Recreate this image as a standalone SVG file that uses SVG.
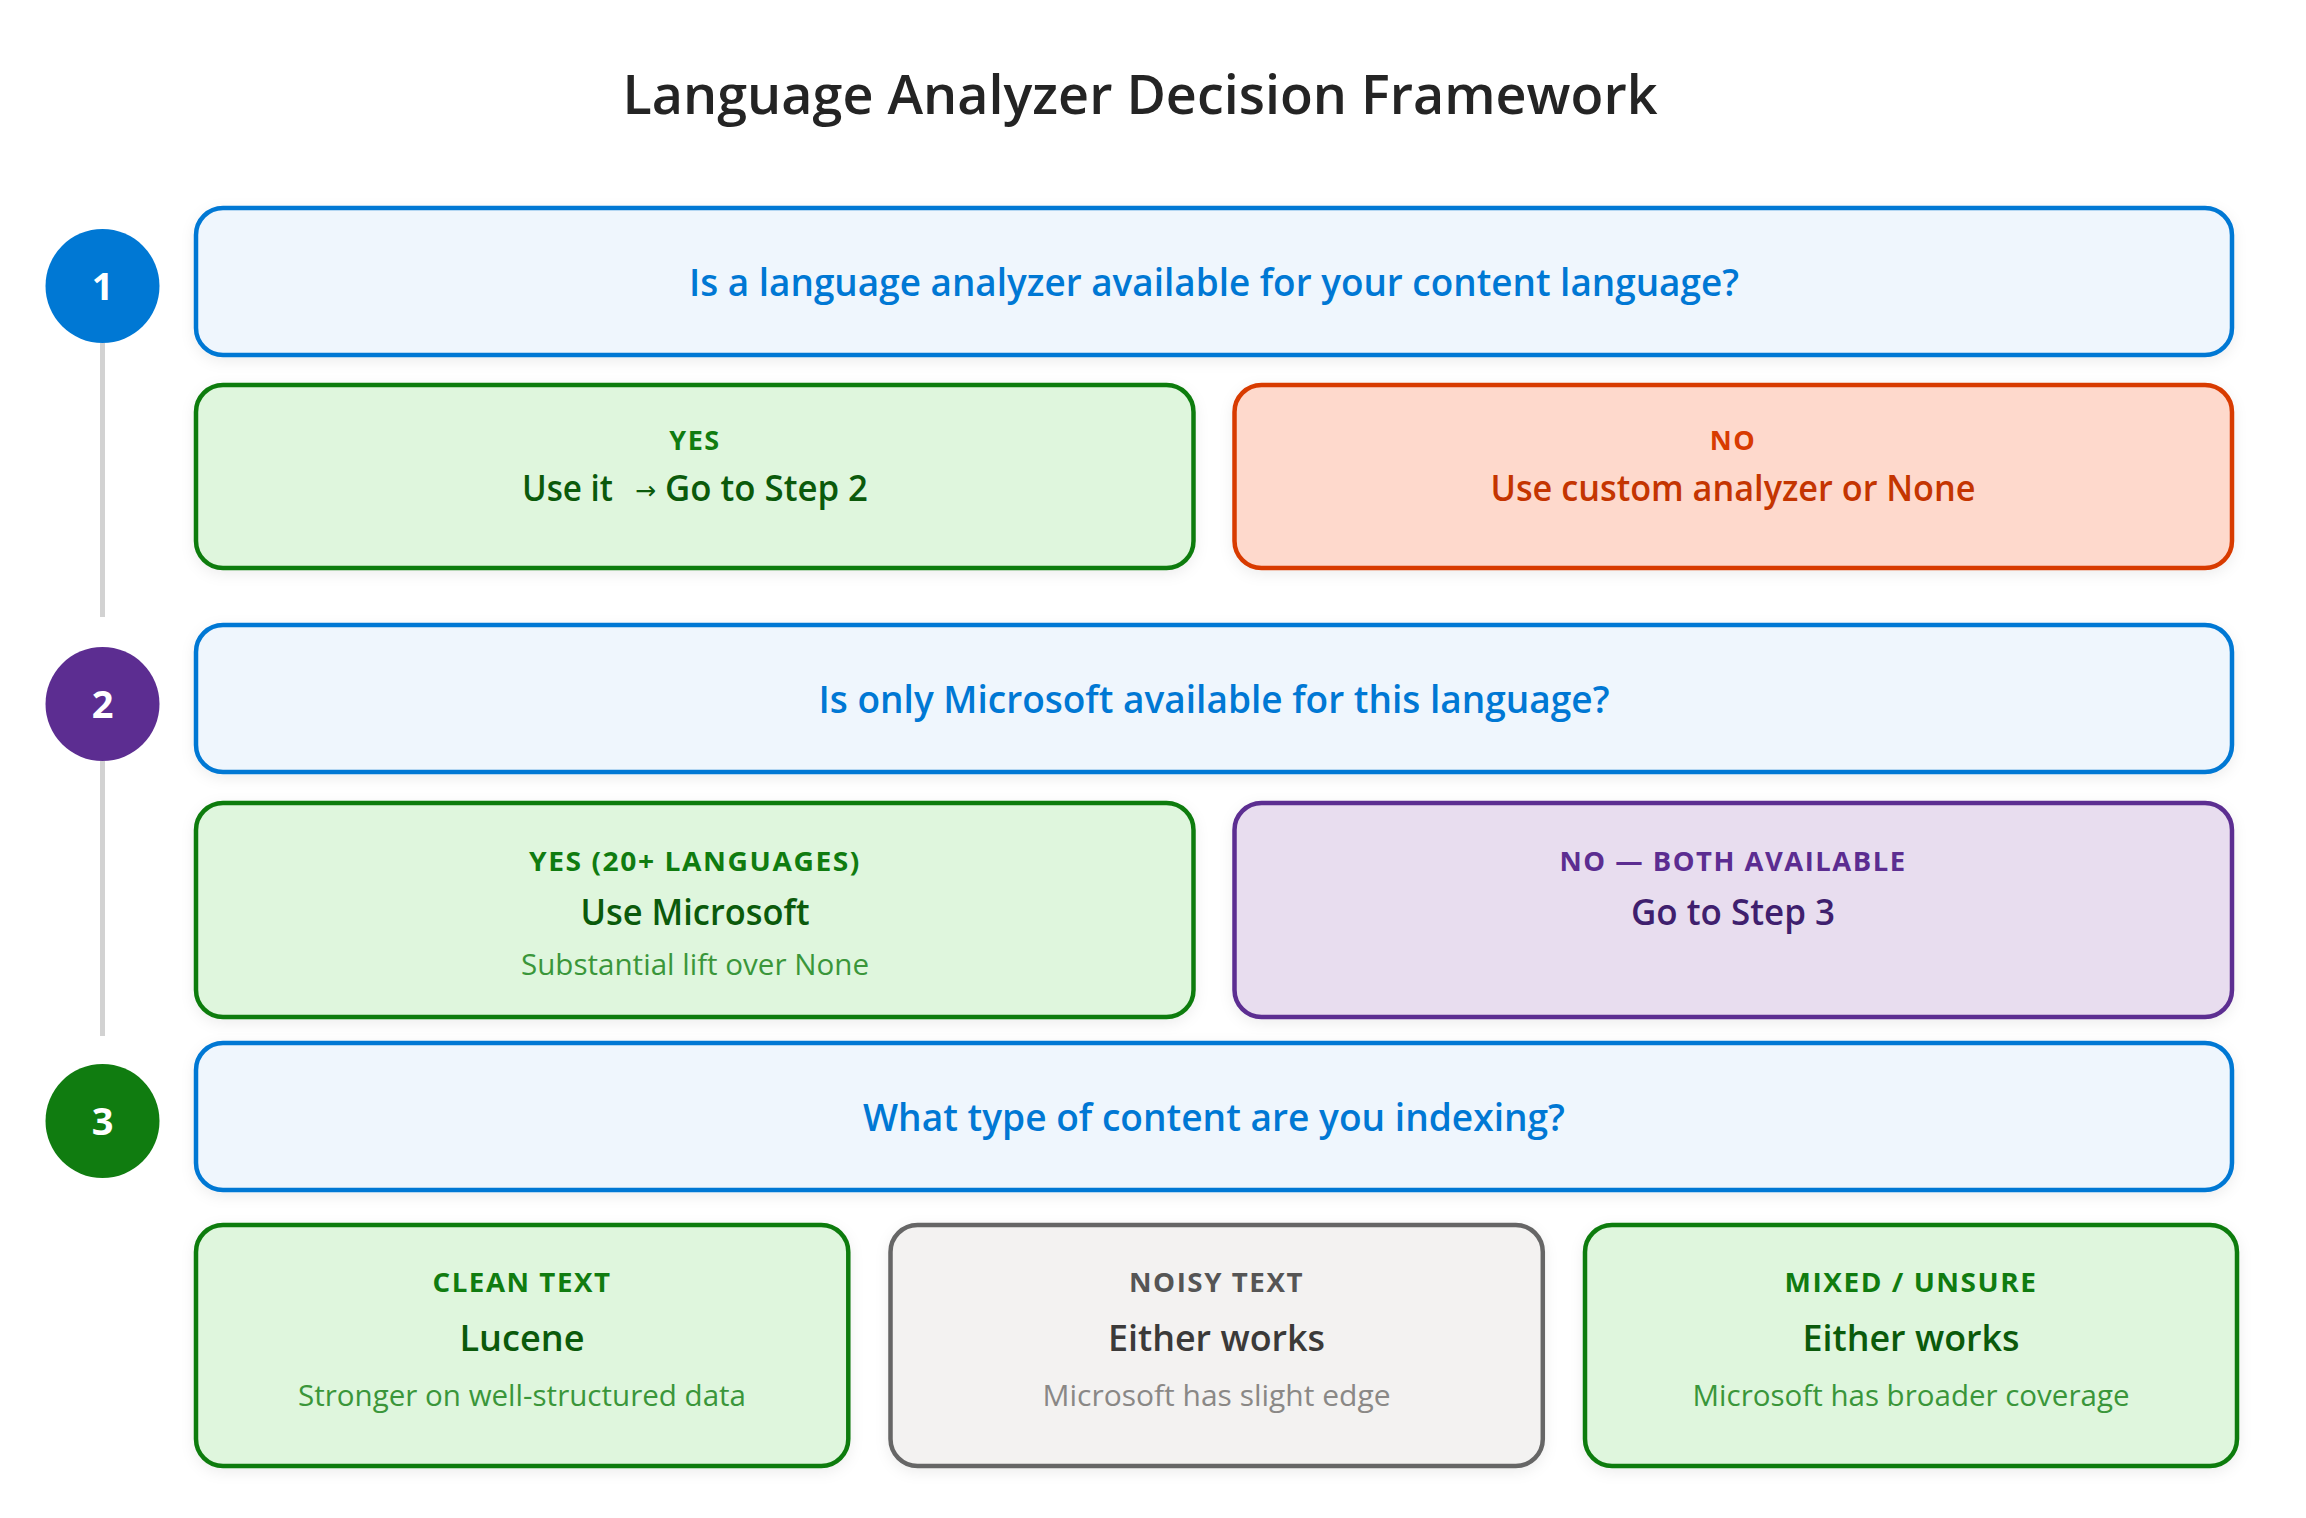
<svg xmlns="http://www.w3.org/2000/svg" width="2306" height="1518" viewBox="0 0 2306 1518">
<defs>
<filter id="sh" x="-5%" y="-10%" width="110%" height="130%">
<feDropShadow dx="0" dy="4" stdDeviation="7" flood-color="#000" flood-opacity="0.07"/>
</filter>
<style>
text{font-family:"Open Sans","Noto Sans","Liberation Sans",sans-serif;text-anchor:middle}
.title{font-size:54px;font-weight:600;fill:#242424}
.q rect{fill:#eff6fd;stroke:#0078d4;stroke-width:4.5}
.q text{font-size:37px;font-weight:600;fill:#0078d4}
.box rect{stroke-width:4.5}
.lbl{font-size:27px;font-weight:700;letter-spacing:1.5px}
.main{font-size:36px;font-weight:600}
.sub{font-size:30px;font-weight:400}
.st{text-anchor:start}
.arr{font-family:"DejaVu Sans",sans-serif;font-size:25px;font-weight:400}
.g rect{fill:#dff6dd;stroke:#107c10}
.g .lbl{fill:#107c10}.g .main{fill:#0b5a0b}.g .sub{fill:#3a963a}
.r rect{fill:#fed9cc;stroke:#d83b01}
.r .lbl{fill:#d83b01}.r .main{fill:#c43501}
.p rect{fill:#e8ddef;stroke:#5c2d91}
.p .lbl{fill:#5c2d91}.p .main{fill:#3f1f6e}
.n rect{fill:#f3f2f1;stroke:#666666}
.n .lbl{fill:#555555}.n .main{fill:#3b3a39}.n .sub{fill:#8a8886}
.step text{font-size:38px;font-weight:700;fill:#ffffff}
.conn line{stroke:#d2d2d2;stroke-width:5}
</style>
</defs>
<rect width="2306" height="1518" fill="#ffffff"/>
<text class="title" x="1140" y="114" textLength="1035" lengthAdjust="spacingAndGlyphs">Language Analyzer Decision Framework</text>

<g id="connectors" class="conn">
<line x1="102.5" y1="343" x2="102.5" y2="617"/>
<line x1="102.5" y1="761" x2="102.5" y2="1036"/>
</g>

<g id="step1" class="step"><circle cx="102.5" cy="286" r="57" fill="#0078d4"/><text x="102.5" y="300">1</text></g>
<g id="step2" class="step"><circle cx="102.5" cy="704" r="57" fill="#5c2d91"/><text x="102.5" y="718">2</text></g>
<g id="step3" class="step"><circle cx="102.5" cy="1121" r="57" fill="#107c10"/><text x="102.5" y="1135">3</text></g>

<g id="q1" class="q"><rect x="196" y="208" width="2036" height="147" rx="27" filter="url(#sh)"/><text x="1214" y="296" textLength="1050" lengthAdjust="spacingAndGlyphs">Is a language analyzer available for your content language?</text></g>

<g id="yes1" class="box g"><rect x="196" y="385" width="997.5" height="183" rx="27" filter="url(#sh)"/>
<text class="lbl" x="695" y="450">YES</text>
<text class="main st" x="522" y="501" textLength="91" lengthAdjust="spacingAndGlyphs">Use it</text>
<text class="main arr" x="645.5" y="499">→</text>
<text class="main st" x="665" y="501" textLength="203" lengthAdjust="spacingAndGlyphs">Go to Step 2</text></g>

<g id="no1" class="box r"><rect x="1234.5" y="385" width="997.5" height="183" rx="27" filter="url(#sh)"/>
<text class="lbl" x="1733" y="450">NO</text>
<text class="main" x="1733" y="501" textLength="485" lengthAdjust="spacingAndGlyphs">Use custom analyzer or None</text></g>

<g id="q2" class="q"><rect x="196" y="625" width="2036" height="147" rx="27" filter="url(#sh)"/><text x="1214" y="713" textLength="791" lengthAdjust="spacingAndGlyphs">Is only Microsoft available for this language?</text></g>

<g id="yes2" class="box g"><rect x="196" y="803" width="997.5" height="214" rx="27" filter="url(#sh)"/>
<text class="lbl" x="695" y="871" textLength="332" lengthAdjust="spacingAndGlyphs">YES (20+ LANGUAGES)</text>
<text class="main" x="695" y="925" textLength="229" lengthAdjust="spacingAndGlyphs">Use Microsoft</text>
<text class="sub" x="695" y="975" textLength="348" lengthAdjust="spacingAndGlyphs">Substantial lift over None</text></g>

<g id="no2" class="box p"><rect x="1234.5" y="803" width="997.5" height="214" rx="27" filter="url(#sh)"/>
<text class="lbl" x="1733" y="871" textLength="347" lengthAdjust="spacingAndGlyphs">NO — BOTH AVAILABLE</text>
<text class="main" x="1733" y="925" textLength="204" lengthAdjust="spacingAndGlyphs">Go to Step 3</text></g>

<g id="q3" class="q"><rect x="196" y="1043" width="2036" height="147" rx="27" filter="url(#sh)"/><text x="1214" y="1131" textLength="702" lengthAdjust="spacingAndGlyphs">What type of content are you indexing?</text></g>

<g id="clean" class="box g"><rect x="196" y="1225" width="652.3" height="241" rx="27" filter="url(#sh)"/>
<text class="lbl" x="522" y="1292" textLength="179" lengthAdjust="spacingAndGlyphs">CLEAN TEXT</text>
<text class="main" x="522" y="1351" textLength="125" lengthAdjust="spacingAndGlyphs">Lucene</text>
<text class="sub" x="522" y="1406" textLength="448" lengthAdjust="spacingAndGlyphs">Stronger on well-structured data</text></g>

<g id="noisy" class="box n"><rect x="890.5" y="1225" width="652.3" height="241" rx="27" filter="url(#sh)"/>
<text class="lbl" x="1216.5" y="1292" textLength="175" lengthAdjust="spacingAndGlyphs">NOISY TEXT</text>
<text class="main" x="1216.5" y="1351" textLength="217" lengthAdjust="spacingAndGlyphs">Either works</text>
<text class="sub" x="1216.5" y="1406" textLength="348" lengthAdjust="spacingAndGlyphs">Microsoft has slight edge</text></g>

<g id="mixed" class="box g"><rect x="1585" y="1225" width="652" height="241" rx="27" filter="url(#sh)"/>
<text class="lbl" x="1911" y="1292" textLength="253" lengthAdjust="spacingAndGlyphs">MIXED / UNSURE</text>
<text class="main" x="1911" y="1351" textLength="217" lengthAdjust="spacingAndGlyphs">Either works</text>
<text class="sub" x="1911" y="1406" textLength="437" lengthAdjust="spacingAndGlyphs">Microsoft has broader coverage</text></g>
</svg>
